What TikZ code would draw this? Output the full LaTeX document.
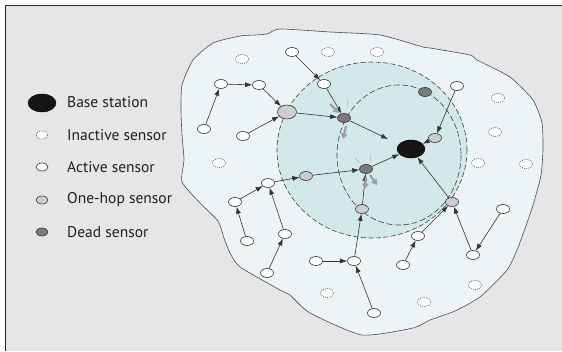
\documentclass[tikz,border=0pt]{standalone}
\usepackage{fontspec}
\setmainfont{PT Sans}
\usetikzlibrary{shapes.geometric,arrows.meta,calc}
\definecolor{bgc}{HTML}{E6E6E8}
\definecolor{blobc}{HTML}{ECF4F6}
\definecolor{ringc}{HTML}{D3E8EB}
\definecolor{linec}{HTML}{333333}
\definecolor{onehopc}{HTML}{CDCDCD}
\definecolor{deadc}{HTML}{7A7A7A}
\begin{document}
\begin{tikzpicture}[x=1pt,y=-1pt,
 sensor/.style={ellipse,draw=linec,line width=0.6pt,minimum width=13pt,minimum height=9pt,inner sep=0pt,fill=white},
 inactive/.style={sensor,dash pattern=on 0.9pt off 1.1pt,draw=black!65},
 active/.style={sensor},
 onehop/.style={sensor,fill=onehopc},
 dead/.style={sensor,fill=deadc},
 bs/.style={ellipse,fill=black!92,draw=black,minimum width=28pt,minimum height=18pt,inner sep=0pt},
 link/.style={draw=linec,line width=0.6pt,-{Latex[length=7pt,width=5pt]}},
 zap/.style={draw=gray!75,line width=2.2pt,-{Triangle[length=5.5pt,width=6.5pt]}},
 tickmark/.style={draw=gray!65,line width=0.5pt},
 legendtext/.style={anchor=west,inner sep=0pt,font=\fontsize{15.5}{18}\selectfont,text=black!88}
]
\useasboundingbox (0,0) rectangle (562,351);
\fill[white] (0,0) rectangle (562,351);
\fill[bgc] (5.5,5.5) rectangle (562,351);
\draw[black!85,line width=1pt] (5.5,351) -- (5.5,5.5) -- (562,5.5);

% field
\draw[fill=blobc,draw=black!70,line width=0.6pt] plot[smooth cycle,tension=0.35] coordinates {
 (280,29) (330,32) (380,35) (423,47) (430,48) (470,55) (477,60) (510,77) (533,100) (542,123) (543,150)
 (541,175) (534,202) (527,223) (517,250) (507,270) (480,297) (455,311) (430,320) (413,328) (362,335)
 (310,313) (290,295) (280,290) (240,267) (230,253) (224,238) (218,221) (200,203) (182,182) (184,160)
 (182,135) (181,110) (182,85) (193,60) (213,43) (240,36) (255,35) (267,34)};

% ranges
\draw[fill=ringc,draw=black!75,line width=0.6pt,dash pattern=on 5pt off 2.5pt] (372,150) ellipse [x radius=95, y radius=88];
\draw[draw=black!75,line width=0.6pt,dash pattern=on 6pt off 2.5pt] (399,155) ellipse [x radius=62, y radius=70];

% inactive sensors
\node[inactive] (i1) at (242,59) {};
\node[inactive] (i2) at (328,52) {};
\node[inactive] (i3) at (377,52) {};
\node[inactive] (i4) at (498,98) {};
\node[inactive] (i5) at (495,132) {};
\node[inactive] (i6) at (219,163) {};
\node[inactive] (i7) at (478,163) {};
\node[inactive] (i8) at (526,164) {};
\node[inactive] (i9) at (327,293) {};
\node[inactive] (i10) at (424,302) {};
\node[inactive] (i11) at (475,285) {};

% active sensors
\node[active] (a1) at (292,52) {};
\node[active] (a2) at (324,84) {};
\node[active] (a3) at (221,84) {};
\node[active] (a4) at (259,85) {};
\node[active] (a5) at (204,129) {};
\node[active] (a6) at (243,136) {};
\node[active] (a7) at (457,86) {};
\node[active] (a8) at (268,183) {};
\node[active] (a9) at (235,202) {};
\node[active] (a10) at (247,241) {};
\node[active] (a11) at (285,234) {};
\node[active] (a12) at (267,273) {};
\node[active] (a13) at (316,261) {};
\node[active] (a14) at (354,261) {};
\node[active] (a15) at (374,313) {};
\node[active] (a16) at (418,236) {};
\node[active] (a17) at (403,265) {};
\node[active] (a18) at (473,255) {};
\node[active] (a19) at (503,209) {};

% one-hop sensors
\node[onehop,minimum width=19pt,minimum height=14pt] (o1) at (287,112) {};
\node[onehop] (o2) at (435,138) {};
\node[onehop] (o3) at (306,176) {};
\node[onehop] (o4) at (362,209) {};
\node[onehop] (o5) at (452,202) {};

% dead sensors
\node[dead] (d1) at (344,118) {};
\node[dead] (d2) at (425,92) {};
\node[dead] (d3) at (366,169) {};

% base station
\node[bs] (bs) at (411,149) {};
\coordinate (gap) at (388,139);

% links
\draw[link] (a1) -- (a2);
\draw[link] (a3) -- (a4);
\draw[link] (a5) -- (a3);
\draw[link] (a4) -- (o1);
\draw[link] (a6) -- (o1);
\draw[link] (o1) -- (d1);
\draw[link] (a2) -- (d1);
\draw[link] (d1) -- (gap);
\draw[link] (a7) -- (o2);
\draw[link] (o2) -- (bs);
\draw[link] (d3) -- (bs);
\draw[link] (o3) -- (d3);
\draw[link] (a8) -- (o3);
\draw[link] (a9) -- (a8);
\draw[link] (a10) -- (a9);
\draw[link] (a11) -- (a8);
\draw[link] (a12) -- (a11);
\draw[link] (a13) -- (a14);
\draw[link] (a15) -- (a14);
\draw[link] (a14) -- (o4);
\draw[link] (o4) -- (d3);
\draw[link] (o5) -- (bs);
\draw[link] (a16) -- (o5);
\draw[link] (a17) -- (a16);
\draw[link] (a18) -- (o5);
\draw[link] (a19) -- (a18);

% failure marks
\draw[zap] (330,104) -- (339,113);
\draw[tickmark] (348,100) -- (347,107);
\draw[zap] (346,126) -- (343,139);
\draw[tickmark] (371,154) -- (370,161);
\draw[tickmark] (355,158) -- (360,163);
\draw[zap] (370,175) -- (377,185);
\draw[zap] (366,177) -- (365,189);

% legend
\node[bs] (lbs) at (42,103) {};
\node[inactive,minimum width=12pt,minimum height=8pt] (lin) at (42,135) {};
\node[active,minimum width=12pt,minimum height=8pt] (lac) at (42,167) {};
\node[onehop,minimum width=12pt,minimum height=8pt] (loh) at (42,200) {};
\node[dead,minimum width=12pt,minimum height=8pt] (ldd) at (42,232) {};
\node[legendtext] (tbs) at (67,102) {Base station};
\node[legendtext] (tin) at (67,135) {Inactive sensor};
\node[legendtext] (tac) at (67,167) {Active sensor};
\node[legendtext] (toh) at (67,200) {One-hop sensor};
\node[legendtext] (tdd) at (67,232) {Dead sensor};
\end{tikzpicture}
\end{document}
